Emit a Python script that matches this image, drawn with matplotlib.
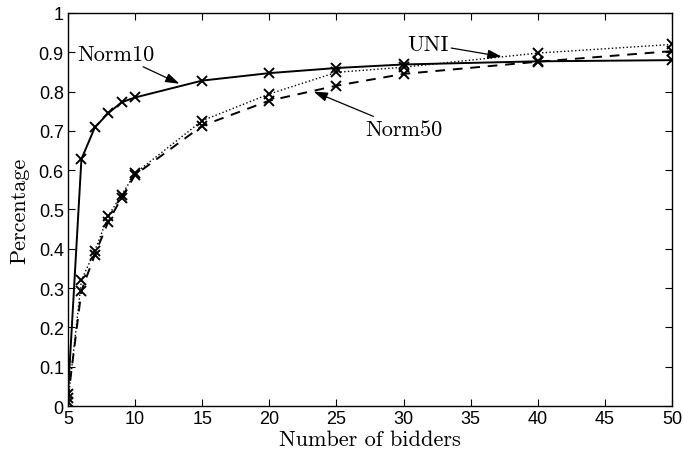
import matplotlib
matplotlib.use("Agg")
import matplotlib.pyplot as plt

# bidder counts and acceptance percentages
bidders = [5, 6, 7, 8, 9, 10, 15, 20, 25, 30, 40, 50]
norm10 = [0.03, 0.628, 0.709, 0.745, 0.773, 0.785, 0.828, 0.847, 0.860, 0.869, 0.877, 0.880]
norm50 = [0.02, 0.293, 0.385, 0.469, 0.530, 0.588, 0.713, 0.777, 0.815, 0.845, 0.876, 0.903]
uni = [0.01, 0.320, 0.395, 0.484, 0.537, 0.592, 0.726, 0.794, 0.849, 0.862, 0.898, 0.920]

x_ticks = [5, 10, 15, 20, 25, 30, 35, 40, 45, 50]
y_ticks = [0, 0.1, 0.2, 0.3, 0.4, 0.5, 0.6, 0.7, 0.8, 0.9, 1]
y_tick_labels = ["0", "0.1", "0.2", "0.3", "0.4", "0.5", "0.6", "0.7", "0.8", "0.9", "1"]

serif = {"family": "serif", "fontname": "cmr10", "size": 16}

fig = plt.figure(figsize=(6.84, 4.60), dpi=100)
ax = fig.add_axes([0.0994, 0.1152, 0.8831, 0.8544])

ax.plot(bidders, norm10, color="black", linestyle="-", linewidth=1.4,
        marker="x", markersize=7, markeredgewidth=1.4)
ax.plot(bidders, norm50, color="black", linestyle="--", linewidth=1.4,
        marker="x", markersize=7, markeredgewidth=1.4, dashes=(5, 4))
ax.plot(bidders, uni, color="black", linestyle=":", linewidth=1.0,
        marker="x", markersize=7, markeredgewidth=1.4)

ax.set_xlim(5, 50)
ax.set_ylim(0, 1)
ax.set_xticks(x_ticks)
ax.set_xticklabels([str(t) for t in x_ticks], fontname="Liberation Sans", fontsize=13)
ax.set_yticks(y_ticks)
ax.set_yticklabels(y_tick_labels, fontname="Liberation Sans", fontsize=13)
ax.tick_params(direction="in", top=True, right=True, length=5, width=0.8, pad=3)
for s in ax.spines.values():
    s.set_linewidth(1.0)

ax.set_xlabel("Number of bidders", labelpad=2, **serif)
ax.set_ylabel("Percentage", labelpad=7, **serif)

arrow = dict(arrowstyle="-|>,head_length=0.6,head_width=0.2", color="black",
             linewidth=0.9, mutation_scale=14, shrinkA=0, shrinkB=0)
ax.annotate("Norm10", xy=(13.3, 0.82), xytext=(8.6, 0.895), ha="center", va="center",
            arrowprops=arrow, **serif)
ax.annotate("UNI", xy=(37.3, 0.889), xytext=(31.8, 0.921), ha="center", va="center",
            arrowprops=arrow, **serif)
ax.annotate("Norm50", xy=(23.3, 0.80), xytext=(30.0, 0.705), ha="center", va="center",
            arrowprops=arrow, **serif)

fig.savefig("out.png", dpi=100)
